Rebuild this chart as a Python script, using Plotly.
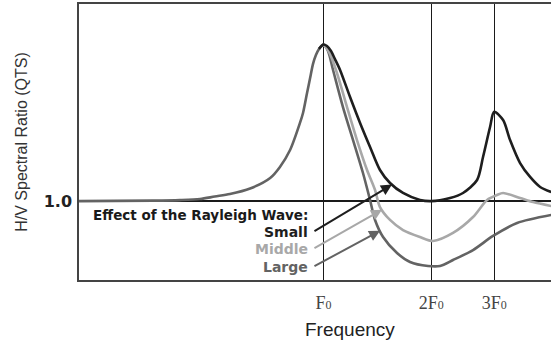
import math
import numpy as np
import plotly.graph_objects as go

# Low-frequency flank shared by all three cases, rising to the F0 peak
rise_freq = [0.2075, 0.334, 0.397, 0.452, 0.497, 0.548, 0.624, 0.710, 0.756, 0.807, 0.860,
             0.877, 0.900, 0.918, 0.935, 0.953, 0.972, 0.991, 1.0]
rise_hv = [1.000, 1.004, 1.008, 1.016, 1.035, 1.054, 1.096, 1.176, 1.260, 1.389, 1.595,
           1.671, 1.823, 1.937, 2.043, 2.112, 2.158, 2.184, 2.192]

# Falling side for each Rayleigh-wave effect level
small_freq = [0.972, 0.991, 1.0, 1.023, 1.050, 1.077, 1.113, 1.187, 1.266, 1.350, 1.439, 1.535,
              1.669, 1.862, 2.0, 2.259, 2.455, 2.688, 2.793, 2.922, 3.0, 3.178, 3.324, 3.545,
              3.781, 4.033, 4.33]
small_hv = [2.158, 2.184, 2.192, 2.180, 2.142, 2.081, 1.998, 1.792, 1.595, 1.412, 1.237, 1.138,
            1.062, 1.009, 1.000, 1.024, 1.062, 1.161, 1.336, 1.564, 1.680, 1.617, 1.465, 1.290,
            1.184, 1.108, 1.070]

middle_freq = [0.991, 1.0, 1.037, 1.091, 1.164, 1.241, 1.324, 1.394, 1.439, 1.535, 1.669, 1.862,
               2.025, 2.302, 2.619, 2.867, 3.056, 3.178, 3.545, 3.855, 4.33]
middle_hv = [2.180, 2.186, 2.135, 1.975, 1.716, 1.465, 1.237, 1.085, 0.955, 0.857, 0.780, 0.727,
             0.697, 0.758, 0.879, 1.009, 1.047, 1.062, 1.024, 0.993, 0.963]

large_freq = [1.030, 1.064, 1.134, 1.210, 1.290, 1.350, 1.394, 1.468, 1.606, 1.746, 1.961, 2.118,
              2.302, 2.619, 2.979, 3.477, 4.33]
large_hv = [2.142, 1.998, 1.716, 1.465, 1.214, 1.009, 0.857, 0.727, 0.605, 0.537, 0.507, 0.507,
            0.552, 0.628, 0.735, 0.834, 0.895]

tick_vals = [1, 2, 3]
tick_text = ["F<span style='font-size:12px'>0</span>",
             "2F<span style='font-size:12px'>0</span>",
             "3F<span style='font-size:12px'>0</span>"]

effect_labels = ["Small", "Middle", "Large"]
effect_colors = ["#1e1e1e", "#a8a8a8", "#636363"]
label_hv = [0.765, 0.636, 0.499]      # text rows of the label block
label_freq = 0.935                   # where the arrows leave the labels
arrow_target_freq = [1.555, 1.458, 1.44]

fig = go.Figure()

series = [
    (rise_freq + large_freq, rise_hv + large_hv, effect_colors[2]),
    (middle_freq, middle_hv, effect_colors[1]),
    (small_freq, small_hv, effect_colors[0]),
]
for fx, hv, col in series:
    fig.add_trace(go.Scatter(x=fx, y=hv, mode="lines",
                             line=dict(color=col, width=2.6, shape="spline", smoothing=0.8),
                             hoverinfo="skip"))

label_font = "DejaVu Sans"
annotations = [
    dict(x=math.log10(label_freq), y=0.895, xref="x", yref="y", xanchor="right", yanchor="middle",
         xshift=-3, text="<b>Effect of the Rayleigh Wave:</b>", showarrow=False,
         font=dict(family=label_font, size=13.5, color="#1a1a1a")),
]
curves = [(small_freq, small_hv), (middle_freq, middle_hv), (rise_freq + large_freq, rise_hv + large_hv)]
for name, col, hv_pos, tf, (cf, ch) in zip(effect_labels, effect_colors, label_hv, arrow_target_freq, curves):
    annotations.append(dict(x=math.log10(label_freq), y=hv_pos, xref="x", yref="y",
                            xanchor="right", yanchor="middle", xshift=-3,
                            text=f"<b>{name}</b>", showarrow=False,
                            font=dict(family=label_font, size=14, color=col)))
    order = np.argsort(cf)
    head_hv = float(np.interp(math.log10(tf), np.log10(np.array(cf)[order]), np.array(ch)[order]))
    annotations.append(dict(x=math.log10(tf), y=head_hv, xref="x", yref="y",
                            ax=math.log10(label_freq), ay=hv_pos, axref="x", ayref="y",
                            text="", showarrow=True, arrowhead=2, arrowsize=1.1,
                            arrowwidth=2, arrowcolor=col))

annotations.append(dict(x=0.574, y=-0.181, xref="paper", yref="paper", xanchor="center",
                        yanchor="middle", text="Frequency", showarrow=False,
                        font=dict(family="Liberation Sans", size=19, color="#222")))

fig.update_layout(
    width=551, height=347,
    margin=dict(l=79, r=0, t=4, b=67),
    plot_bgcolor="white", paper_bgcolor="white",
    showlegend=False,
    annotations=annotations,
    xaxis=dict(type="log", range=[-0.683, 0.636],
               tickvals=tick_vals, ticktext=tick_text,
               showgrid=True, gridcolor="#1a1a1a", gridwidth=1,
               showline=True, mirror=True, linecolor="#444", linewidth=1.5,
               ticks="", ticklabelstandoff=6, zeroline=False,
               tickfont=dict(family="Liberation Serif", size=18, color="#444")),
    yaxis=dict(range=[0.4, 2.5], tickvals=[1.0], ticktext=["1.0"],
               showgrid=True, gridcolor="#1a1a1a", gridwidth=1.5,
               showline=True, mirror=False, linecolor="#444", linewidth=1.5,
               ticks="", zeroline=False, ticklabelstandoff=2,
               tickfont=dict(family=label_font, size=16, color="#222", weight="bold"),
               title=dict(text="H/V Spectral Ratio (QTS)", standoff=12,
                          font=dict(family="Liberation Sans", size=16, color="#333"))),
)

fig.write_html("out.html")
